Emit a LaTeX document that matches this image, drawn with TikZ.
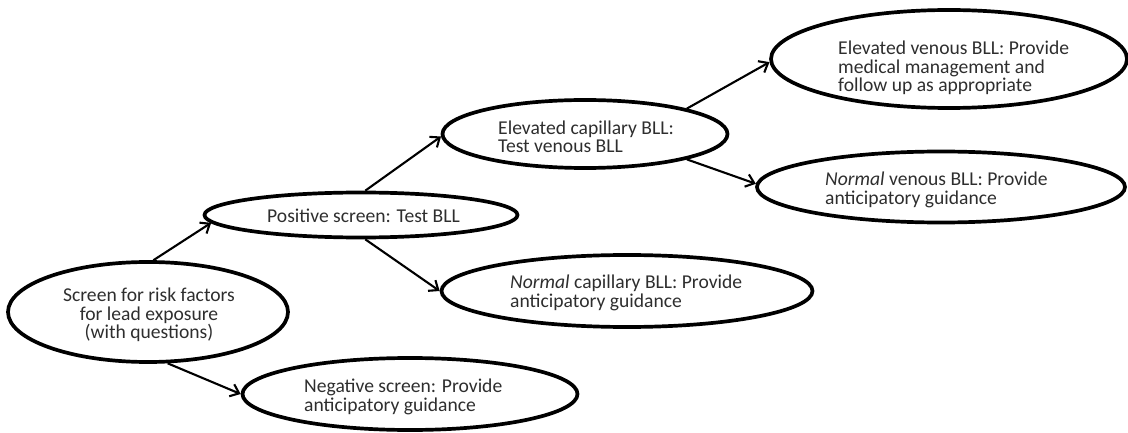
\documentclass[tikz,border=0pt]{standalone}
\usepackage{fontspec}
\setmainfont{Carlito}
\usetikzlibrary{shapes.geometric,arrows.meta}
\definecolor{txt}{HTML}{2E2E2E}
\tikzset{
  oval/.style={ellipse, draw=black, line width=3.7pt, inner sep=0pt},
  lbl/.style={inner sep=0pt, text=txt, font=\fontsize{19.6}{18.5}\selectfont, align=left, anchor=west},
  conn/.style={line width=2.1pt, -{Straight Barb[length=8pt,width=13pt,line width=2.1pt]}},
}
\begin{document}
\begin{tikzpicture}[x=1pt,y=-1pt]
\useasboundingbox (0,0) rectangle (1128,433);
\node[oval, minimum width=280pt, minimum height=100pt] (A) at (148,312) {};
\node[oval, minimum width=313pt, minimum height=45pt] (B) at (361,215) {};
\node[oval, minimum width=285pt, minimum height=68pt] (C) at (585,134) {};
\node[oval, minimum width=356pt, minimum height=98pt] (D) at (949,59) {};
\node[oval, minimum width=368pt, minimum height=71pt] (E) at (941,187) {};
\node[oval, minimum width=371pt, minimum height=72pt] (F) at (627,291) {};
\node[oval, minimum width=335pt, minimum height=72pt] (G) at (410,394) {};

\node[lbl, align=center, anchor=center] (tA) at (149,315) {Screen for risk factors\\for lead exposure\\(with questions)};
\node[lbl] (tB) at (267,216) {Positive screen: Test BLL};
\node[lbl] (tC) at (498,137) {Elevated capillary BLL:\\Test venous BLL};
\node[lbl] (tD) at (838,68) {Elevated venous BLL: Provide\\medical management and\\follow up as appropriate};
\node[lbl] (tE) at (825,190) {\textit{Normal} venous BLL: Provide\\anticipatory guidance};
\node[lbl] (tF) at (510,293) {\textit{Normal} capillary BLL: Provide\\anticipatory guidance};
\node[lbl] (tG) at (304,397) {Negative screen: Provide\\anticipatory guidance};

\draw[conn] (A.84) -- (B.183);
\draw[conn] (A.-69) -- (G.180);
\draw[conn] (B.80) -- (C.181.6);
\draw[conn] (B.-80) -- (F.180);
\draw[conn] (C.14) -- (D.181);
\draw[conn] (C.-14.5) -- (E.179.4);
\end{tikzpicture}
\end{document}
